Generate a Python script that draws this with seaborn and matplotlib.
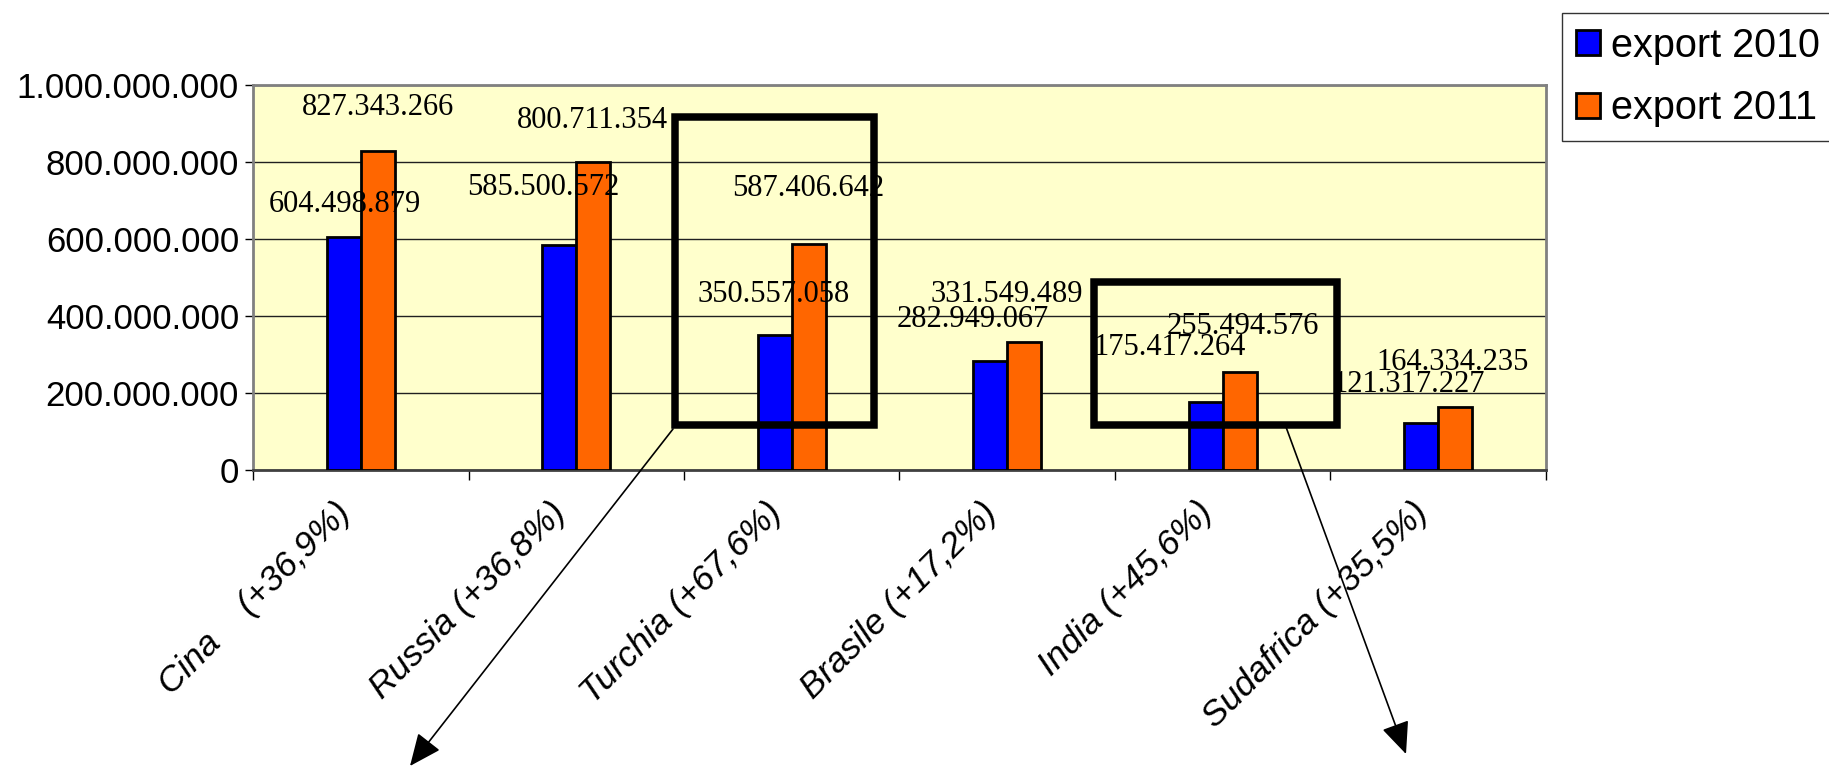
import numpy as np
import pandas as pd
import matplotlib
matplotlib.use("Agg")
import matplotlib.pyplot as plt
import matplotlib.transforms as mtransforms
import seaborn as sns
from matplotlib.patches import Rectangle, FancyArrowPatch, Patch
from matplotlib.ticker import FuncFormatter

# Data
countries = ["Cina    (+36,9%)", "Russia (+36,8%)", "Turchia (+67,6%)",
             "Brasile (+17,2%)", "India (+45,6%)", "Sudafrica (+35,5%)"]
series = ["export 2010", "export 2011"]
export_2010 = [604498879, 585500572, 350557058, 282949067, 175417264, 121317227]
export_2011 = [827343266, 800711354, 587406642, 331549489, 255494576, 164334235]

# where the value labels sit (x shift in category units, height in data units)
lab_dx_2010 = [-0.075, -0.153, -0.085, -0.16, -0.246, -0.138]
lab_y_2010 = [690e6, 733e6, 457e6, 392e6, 319e6, 223e6]
lab_dx_2011 = [0.082, 0.077, 0.074, 0.0, 0.093, 0.068]
lab_y_2011 = [942e6, 907e6, 732e6, 457e6, 374e6, 279e6]

colors = ["#0000FF", "#FF6600"]

df = pd.DataFrame({
    "country": countries * 2,
    "serie": [series[0]] * len(countries) + [series[1]] * len(countries),
    "value": export_2010 + export_2011,
})

sns.set_style("white")
plt.rcParams["font.family"] = ["Liberation Sans", "DejaVu Sans"]
plt.rcParams["text.color"] = "black"
plt.rcParams["xtick.color"] = "black"
plt.rcParams["ytick.color"] = "black"

W, H = 1829, 768
fig = plt.figure(figsize=(W / 100, H / 100), dpi=100)
ax = fig.add_axes([253 / W, 1 - 470 / H, (1546 - 253) / W, (470 - 85) / H])
ax.set_facecolor("#FFFFCC")

sns.barplot(data=df, x="country", y="value", hue="serie", palette=colors,
            saturation=1, width=0.315, gap=0, edgecolor="black", linewidth=2,
            legend=False, ax=ax, zorder=3)

ax.set_xlim(-0.5, len(countries) - 0.5)
ax.set_ylim(0, 1e9)
ax.set_yticks(np.arange(0, 1.0e9 + 1, 2e8))
ax.yaxis.set_major_formatter(FuncFormatter(lambda v, p: f"{v:,.0f}".replace(",", ".")))
ax.tick_params(axis="y", labelsize=25, length=6, width=1, pad=4, left=True,
               color="black", labelcolor="black")
ax.yaxis.grid(True, color="#202020", linewidth=1)
ax.set_axisbelow(True)

# boundary ticks + centred category labels
ax.set_xticks(np.arange(len(countries) + 1) - 0.5)
ax.set_xticklabels([])
ax.set_xticks(np.arange(len(countries)), minor=True)
ax.set_xticklabels(countries, minor=True, rotation=45, ha="right", va="center",
                   rotation_mode="anchor", fontstyle="italic", fontsize=25.5, color="black")
ax.tick_params(axis="x", which="major", length=7, width=1, bottom=True, color="black")
ax.tick_params(axis="x", which="minor", length=0, pad=27)
shift = mtransforms.ScaledTranslation(-0.15, 0, fig.dpi_scale_trans)
for lab in ax.get_xticklabels(minor=True):
    lab.set_transform(lab.get_transform() + shift)
ax.set_xlabel("")
ax.set_ylabel("")

for side in ["top", "right", "left"]:
    ax.spines[side].set_color("#808080")
    ax.spines[side].set_linewidth(2)
ax.spines["bottom"].set_color("#404040")
ax.spines["bottom"].set_linewidth(2)

def fmt(v):
    return f"{v:,}".replace(",", ".")

for i in range(len(countries)):
    ax.text(i + lab_dx_2010[i], lab_y_2010[i], fmt(export_2010[i]), ha="center", va="center",
            family="Liberation Serif", fontsize=22, color="black", zorder=5)
    ax.text(i + lab_dx_2011[i], lab_y_2011[i], fmt(export_2011[i]), ha="center", va="center",
            family="Liberation Serif", fontsize=22, color="black", zorder=5)

# legend
handles = [Patch(facecolor=c, edgecolor="black", linewidth=2) for c in colors]
leg = fig.legend(handles, series, loc="upper left", bbox_to_anchor=(1562 / W, 1 - 13 / H),
                 borderaxespad=0, fontsize=28.5, frameon=True, fancybox=False,
                 handlelength=0.6, handleheight=0.6, handletextpad=0.3,
                 borderpad=0.35, labelspacing=0.62)
leg.get_frame().set_edgecolor("black")
leg.get_frame().set_linewidth(1)
for t in leg.get_texts():
    t.set_color("black")

# highlight boxes and arrows
def px(x, y):
    return (x / W, 1 - y / H)

for (x0, y0, x1, y1) in [(675, 117, 874, 425), (1094, 282, 1337, 425)]:
    fig.add_artist(Rectangle(px(x0, y1), (x1 - x0) / W, (y1 - y0) / H, transform=fig.transFigure,
                             fill=False, edgecolor="black", linewidth=5.4, joinstyle="miter", zorder=10))

for (a, b) in [((673, 429), (410, 766)), ((1286, 427), (1406, 754))]:
    fig.add_artist(FancyArrowPatch(px(*a), px(*b), transform=fig.transFigure,
                                   arrowstyle="-|>,head_length=0.8,head_width=0.35",
                                   mutation_scale=25, color="black", linewidth=1.2,
                                   shrinkA=0, shrinkB=0, zorder=10))

fig.savefig("out.png", dpi=100)
plt.close(fig)
